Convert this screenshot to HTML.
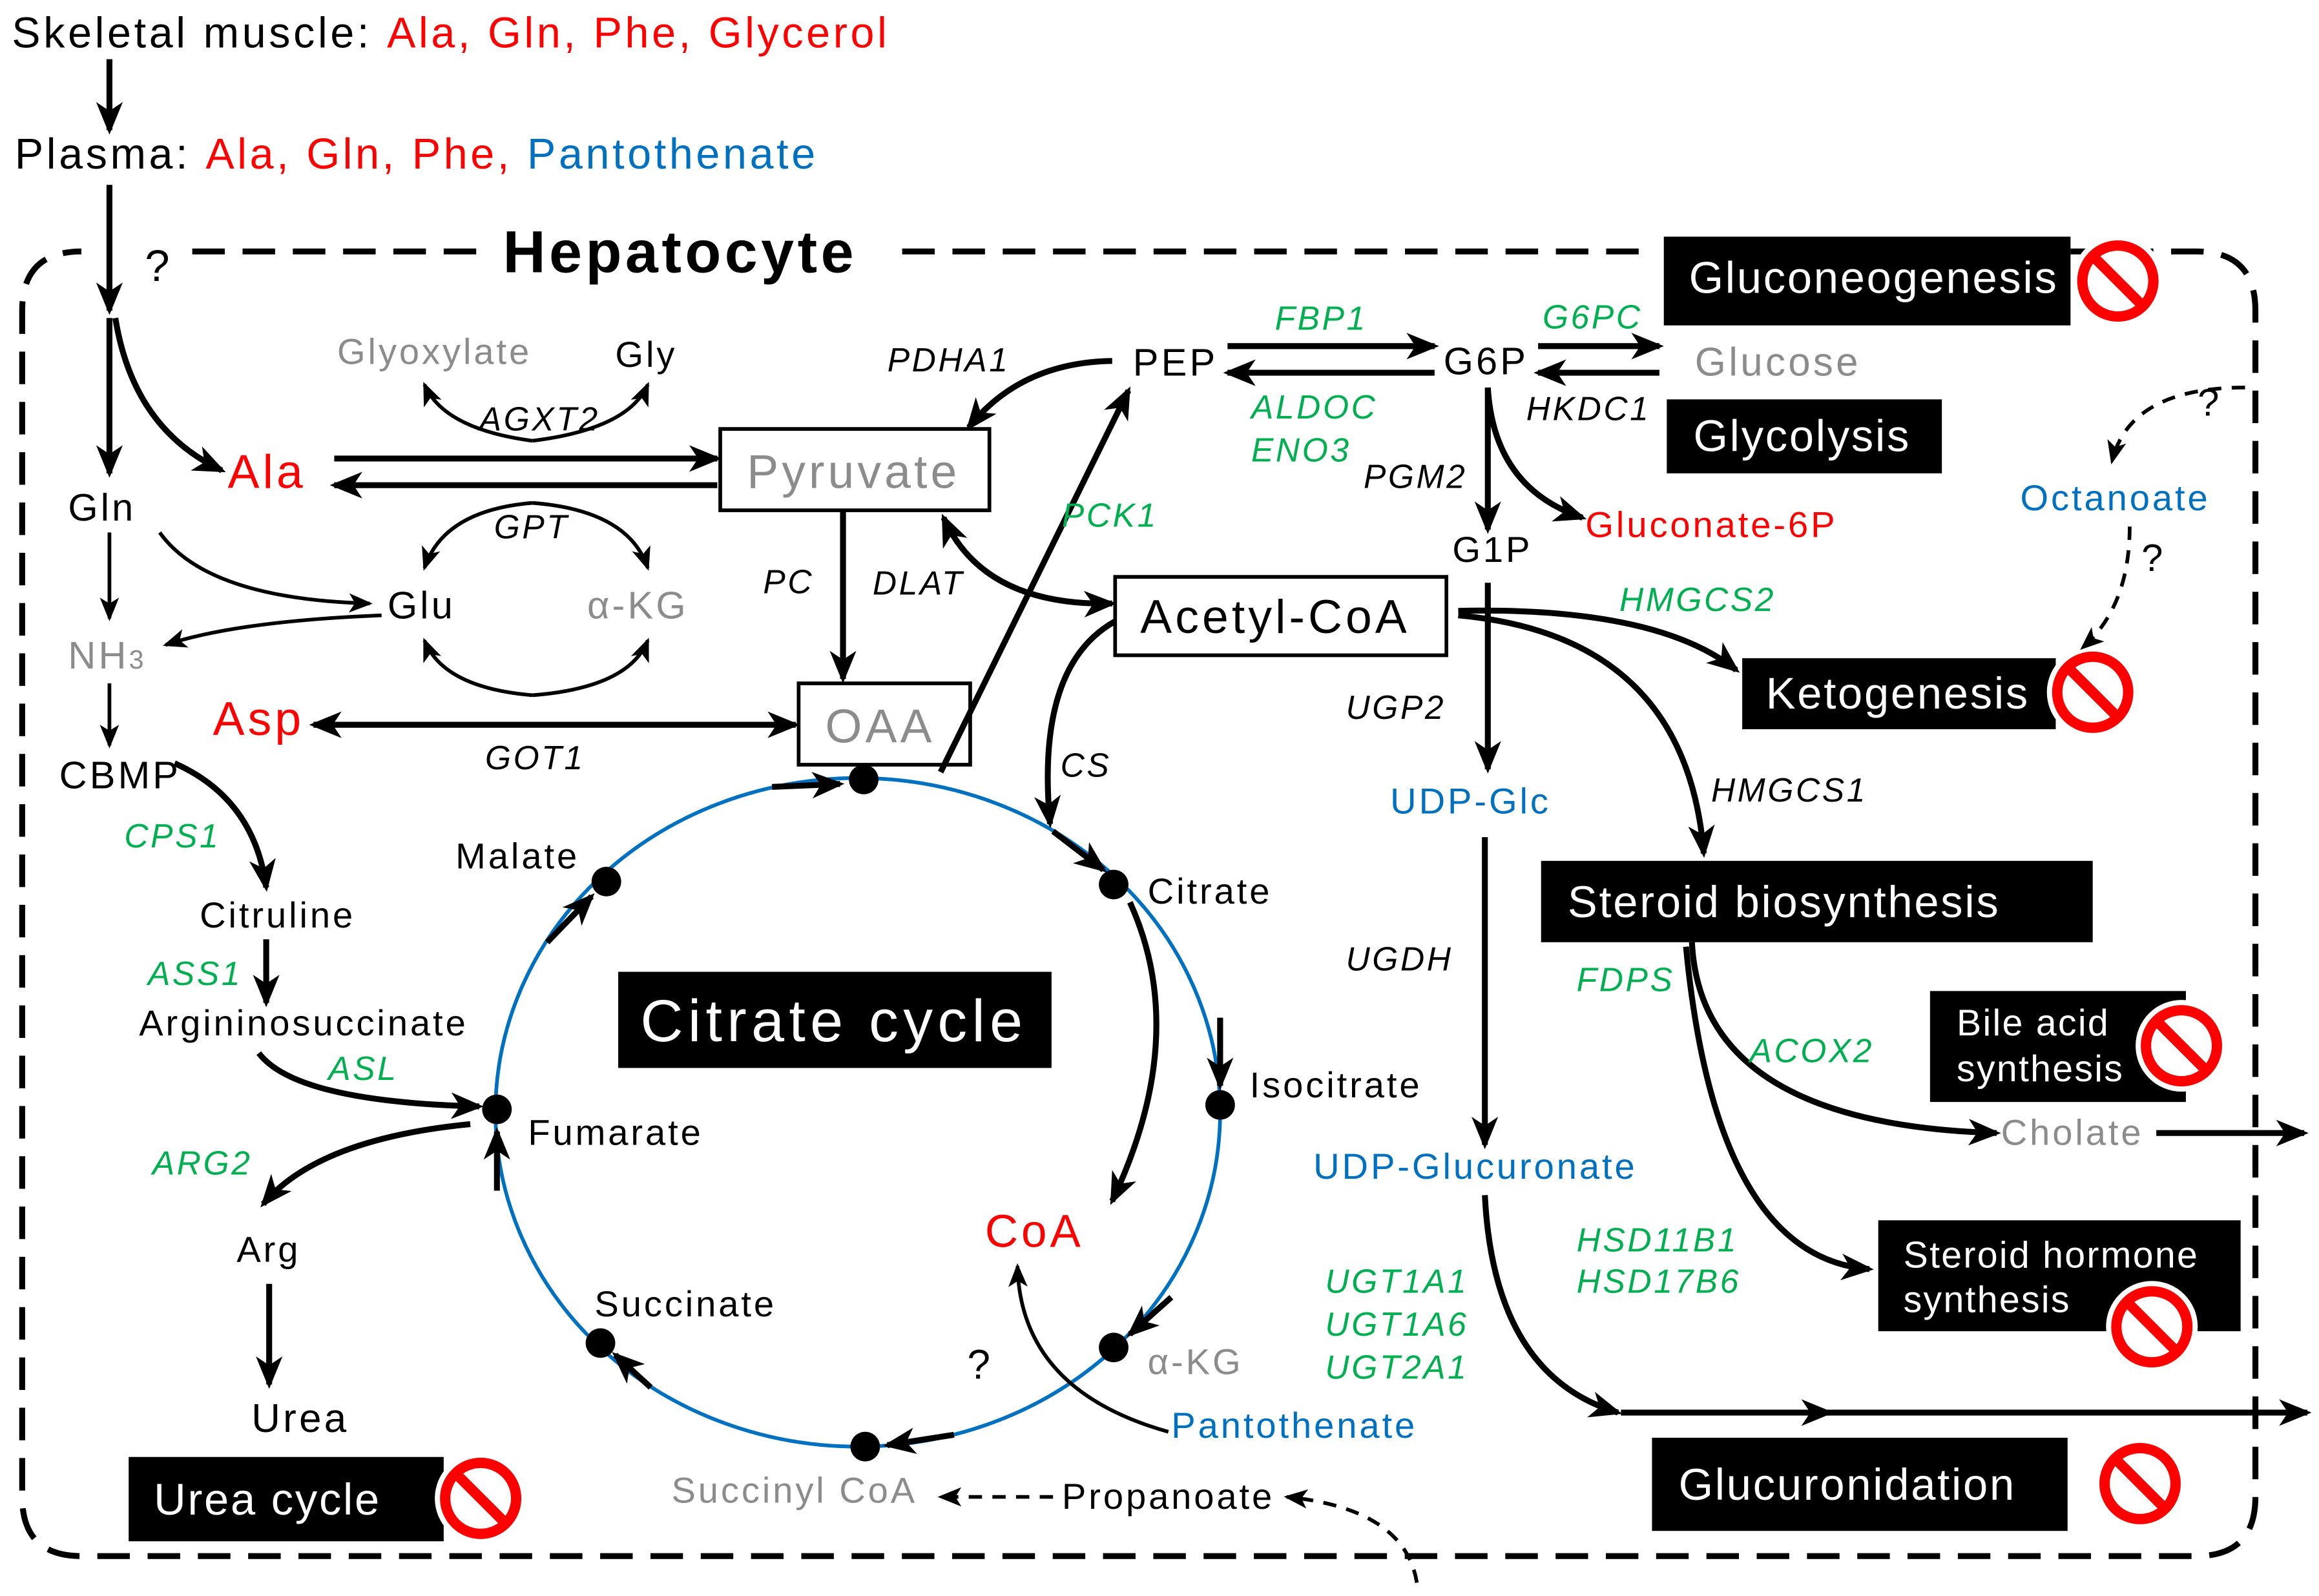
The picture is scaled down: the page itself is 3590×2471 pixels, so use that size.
<!DOCTYPE html>
<html><head><meta charset="utf-8">
<style>
html,body{margin:0;padding:0;background:#fff;}
svg{display:block;}
text{font-family:"Liberation Sans",Arial,sans-serif;letter-spacing:0.07em;}
.g{fill:#00b050;font-style:italic;font-size:22.5px;}
.k{fill:#000;font-style:italic;font-size:22.5px;}
.n{fill:#000;font-size:24.5px;}
.gr{fill:#8c8c8c;}
.r{fill:#ff0000;}
.b{fill:#0070c0;}
.bx{fill:#000;}
.wt{fill:#fff;font-size:30px;letter-spacing:0.04em;}
.a{fill:none;stroke:#000;stroke-width:4;marker-end:url(#ah);}
.a2{fill:none;stroke:#000;stroke-width:2.5;marker-end:url(#ah2);}
.d{fill:none;stroke:#000;stroke-width:2.5;stroke-dasharray:9 7;marker-end:url(#ah2);}
</style></head><body>
<svg width="3590" height="2471" viewBox="0 0 1568 1079" preserveAspectRatio="none" xmlns="http://www.w3.org/2000/svg">
<defs>
<marker id="ah" viewBox="0 0 22 18" refX="19" refY="9" markerWidth="22" markerHeight="18" orient="auto-start-reverse" markerUnits="userSpaceOnUse">
<path d="M0,0 L22,9 L0,18 L6,9 Z" fill="#000"/>
</marker>
<marker id="ah2" viewBox="0 0 16 13" refX="14" refY="6.5" markerWidth="16" markerHeight="13" orient="auto-start-reverse" markerUnits="userSpaceOnUse">
<path d="M0,0 L16,6.5 L0,13 L4,6.5 Z" fill="#000"/>
</marker>
<g id="no"><circle r="31" fill="#fff"/><circle r="24" fill="none" stroke="#ff0000" stroke-width="7"/><line x1="-17" y1="-17" x2="17" y2="17" stroke="#ff0000" stroke-width="7"/></g>
</defs>

<text x="8" y="32" style="font-size:29px">Skeletal muscle: <tspan class="r">Ala, Gln, Phe, Glycerol</tspan></text>
<path class="a" d="M74,40 L74,88"/>
<text x="10" y="114" style="font-size:29px">Plasma: <tspan class="r">Ala, Gln, Phe, </tspan><tspan class="b">Pantothenate</tspan></text>
<path class="a" d="M74,125 L74,210"/>
<text x="98" y="190" style="font-size:30px">?</text>

<path d="M130,170 L330,170 M610,170 L1120,170 M1400,170 L1485,170 Q1525,170 1525,210 L1525,1012 Q1525,1052 1485,1052 L55,1052 Q15,1052 15,1012 L15,210 Q15,170 55,170" fill="none" stroke="#000" stroke-width="4" stroke-dasharray="22 12"/>
<text x="340" y="184" style="font-size:40px;font-weight:bold;letter-spacing:0.06em">Hepatocyte</text>

<rect x="1125" y="160" width="275" height="60" class="bx"/><text x="1142" y="198" class="wt">Gluconeogenesis</text>
<use href="#no" x="1432" y="190"/>
<rect x="1127" y="270" width="186" height="50" class="bx"/><text x="1145" y="305" class="wt">Glycolysis</text>
<rect x="1178" y="445" width="212" height="48" class="bx"/><text x="1194" y="479" class="wt">Ketogenesis</text>
<use href="#no" x="1415" y="468"/>
<rect x="1042" y="582" width="373" height="55" class="bx"/><text x="1060" y="620" class="wt">Steroid  biosynthesis</text>
<rect x="1305" y="670" width="173" height="75" class="bx"/><text x="1323" y="700" class="wt" style="font-size:25px">Bile acid</text><text x="1323" y="731" class="wt" style="font-size:25px">synthesis</text>
<use href="#no" x="1475" y="707"/>
<rect x="1270" y="825" width="245" height="75" class="bx"/><text x="1287" y="857" class="wt" style="font-size:25px">Steroid hormone</text><text x="1287" y="887" class="wt" style="font-size:25px">synthesis</text>
<use href="#no" x="1455" y="897"/>
<rect x="1117" y="972" width="281" height="63" class="bx"/><text x="1135" y="1014" class="wt">Glucuronidation</text>
<use href="#no" x="1447" y="1003"/>
<rect x="87" y="985" width="213" height="57" class="bx"/><text x="104" y="1024" class="wt">Urea cycle</text>
<use href="#no" x="325" y="1013"/>
<rect x="418" y="657" width="293" height="65" class="bx"/><text x="433" y="704" class="wt" style="font-size:40px;letter-spacing:0.08em">Citrate cycle</text>

<rect x="487" y="290" width="182" height="55" fill="#fff" stroke="#000" stroke-width="2.5"/><text x="505" y="330" style="font-size:32px" class="gr">Pyruvate</text>
<rect x="754" y="390" width="224" height="53" fill="#fff" stroke="#000" stroke-width="2.5"/><text x="771" y="428" style="font-size:32px">Acetyl-CoA</text>
<rect x="540" y="462" width="116" height="55" fill="#fff" stroke="#000" stroke-width="2.5"/><text x="558" y="502" style="font-size:32px" class="gr">OAA</text>

<ellipse cx="580" cy="752" rx="245" ry="226" fill="none" stroke="#0070c0" stroke-width="2.5"/>
<g fill="#000"><circle cx="584" cy="527" r="10"/><circle cx="753" cy="598" r="10"/><circle cx="825" cy="747" r="10"/><circle cx="753" cy="911" r="10"/><circle cx="585" cy="978" r="10"/><circle cx="406" cy="908" r="10"/><circle cx="336" cy="750" r="10"/><circle cx="410" cy="596" r="10"/></g>
<path class="a" d="M522,532 L568,530"/>
<path class="a" d="M712,562 L746,588"/>
<path class="a" d="M825,688 L825,734"/>
<path class="a" d="M792,877 L764,902"/>
<path class="a" d="M645,970 L600,977"/>
<path class="a" d="M440,938 L416,916"/>
<path class="a" d="M336,805 L336,765"/>
<path class="a" d="M370,637 L400,606"/>

<text x="308" y="587" class="n">Malate</text>
<text x="776" y="611" class="n">Citrate</text>
<text x="845" y="742" class="n">Isocitrate</text>
<text x="357" y="774" class="n">Fumarate</text>
<text x="402" y="890" class="n">Succinate</text>
<text x="776" y="929" class="n gr">α-KG</text>
<text x="454" y="1016" class="n gr">Succinyl CoA</text>
<text x="718" y="1020" class="n">Propanoate</text>
<text x="666" y="843" style="font-size:31px" class="r">CoA</text>
<text x="792" y="972" class="n b">Pantothenate</text>
<text x="654" y="932" style="font-size:28px">?</text>

<path class="a" d="M74,215 L74,320"/>
<path class="a" d="M78,215 Q90,290 150,318"/>
<text x="46" y="352" class="n" style="font-size:26px">Gln</text>
<text x="154" y="330" style="font-size:32px" class="r">Ala</text>
<path class="a2" d="M74,360 L74,418"/>
<text x="46" y="452" class="n gr" style="font-size:26px">NH<tspan style="font-size:18px">3</tspan></text>
<path class="a2" d="M74,462 L74,504"/>
<text x="40" y="533" class="n" style="font-size:26px">CBMP</text>
<text x="144" y="497" style="font-size:32px" class="r">Asp</text>
<path class="a2" d="M108,360 Q140,405 250,408"/>
<path class="a2" d="M258,416 Q160,420 112,436"/>
<text x="262" y="418" class="n" style="font-size:26px">Glu</text>
<text x="397" y="418" class="n gr" style="font-size:26px">α-KG</text>
<text x="228" y="246" class="n gr">Glyoxylate</text>
<text x="416" y="248" class="n">Gly</text>
<path class="a2" d="M360,298 Q300,290 287,260"/>
<path class="a2" d="M360,298 Q425,290 438,260"/>
<text x="324" y="291" class="k">AGXT2</text>
<path class="a" d="M226,310 L485,310"/>
<path class="a" d="M485,328 L226,328"/>
<path class="a2" d="M360,340 Q300,345 287,384"/>
<path class="a2" d="M360,340 Q425,345 438,384"/>
<text x="334" y="364" class="k">GPT</text>
<path class="a2" d="M360,470 Q300,465 287,433"/>
<path class="a2" d="M360,470 Q425,465 438,433"/>
<path class="a" d="M212,490 L538,490" style="marker-start:url(#ah)"/>
<text x="328" y="520" class="k">GOT1</text>

<path class="a" d="M118,516 Q172,540 180,600"/>
<text x="84" y="573" class="g">CPS1</text>
<text x="135" y="627" class="n">Citruline</text>
<path class="a" d="M180,635 L180,678"/>
<text x="100" y="666" class="g">ASS1</text>
<text x="94" y="700" class="n">Argininosuccinate</text>
<path class="a" d="M175,712 Q200,745 324,748"/>
<text x="222" y="730" class="g">ASL</text>
<path class="a" d="M318,760 Q215,770 178,814"/>
<text x="103" y="794" class="g">ARG2</text>
<text x="160" y="853" class="n">Arg</text>
<path class="a" d="M182,868 L182,936"/>
<text x="170" y="968" class="n" style="font-size:27px">Urea</text>

<path class="a" d="M752,244 Q690,245 655,289"/>
<text x="600" y="251" class="k">PDHA1</text>
<text x="766" y="254" class="n" style="font-size:26px">PEP</text>
<path class="a" d="M570,345 L570,459"/>
<text x="516" y="401" class="k">PC</text>
<text x="590" y="402" class="k">DLAT</text>
<path class="a" d="M636,522 L763,264"/>
<text x="718" y="356" class="g">PCK1</text>
<path class="a" d="M638,350 Q665,410 752,408" style="marker-start:url(#ah)"/>
<path class="a" d="M754,420 Q700,450 710,557"/>
<text x="717" y="525" class="k">CS</text>
<path class="a" d="M764,610 Q805,700 752,812"/>

<path class="a" d="M830,234 L970,234"/>
<path class="a" d="M970,252 L830,252"/>
<text x="862" y="223" class="g">FBP1</text>
<text x="846" y="283" class="g">ALDOC</text>
<text x="846" y="312" class="g">ENO3</text>
<text x="976" y="253" class="n" style="font-size:26px">G6P</text>
<path class="a" d="M1040,234 L1122,234"/>
<path class="a" d="M1122,252 L1040,252"/>
<text x="1043" y="222" class="g">G6PC</text>
<text x="1146" y="254" class="n gr" style="font-size:27px">Glucose</text>
<text x="1032" y="284" class="k">HKDC1</text>
<path class="a" d="M1006,262 L1006,358"/>
<path class="a" d="M1006,262 Q1010,330 1070,350"/>
<text x="922" y="330" class="k">PGM2</text>
<text x="1072" y="363" class="n r">Gluconate-6P</text>
<text x="982" y="380" class="n">G1P</text>
<path class="a" d="M1006,394 L1006,520"/>
<text x="910" y="486" class="k">UGP2</text>
<text x="940" y="550" class="n b">UDP-Glc</text>
<path class="a" d="M1004,566 L1004,774"/>
<text x="910" y="656" class="k">UGDH</text>
<text x="888" y="797" class="n b">UDP-Glucuronate</text>
<path class="a" d="M1004,808 Q1010,930 1094,955"/>
<path class="a" d="M1096,955 L1237,955"/>
<path class="a" d="M1235,955 L1560,955"/>
<text x="896" y="874" class="g">UGT1A1</text>
<text x="896" y="903" class="g">UGT1A6</text>
<text x="896" y="932" class="g">UGT2A1</text>

<path class="a" d="M986,413 Q1120,410 1174,453"/>
<text x="1095" y="413" class="g">HMGCS2</text>
<path class="a" d="M986,416 Q1140,430 1152,577"/>
<text x="1157" y="542" class="k">HMGCS1</text>
<text x="1066" y="670" class="g">FDPS</text>
<path class="a" d="M1144,637 Q1150,760 1350,766"/>
<text x="1183" y="718" class="g">ACOX2</text>
<text x="1353" y="774" class="n gr">Cholate</text>
<path class="a" d="M1458,766 L1558,766"/>
<path class="a" d="M1140,640 Q1160,850 1264,858"/>
<text x="1066" y="846" class="g">HSD11B1</text>
<text x="1066" y="874" class="g">HSD17B6</text>

<path class="d" d="M1518,262 Q1440,262 1428,312"/>
<text x="1486" y="281" style="font-size:26px">?</text>
<text x="1366" y="345" class="n b">Octanoate</text>
<path class="d" d="M1440,356 Q1440,410 1408,438"/>
<text x="1448" y="386" style="font-size:26px">?</text>

<path class="d" d="M712,1012 L636,1012"/>
<path class="d" d="M958,1070 Q950,1020 870,1012"/>
<path class="a2" d="M790,968 Q690,940 688,856"/>
</svg>
</body></html>
